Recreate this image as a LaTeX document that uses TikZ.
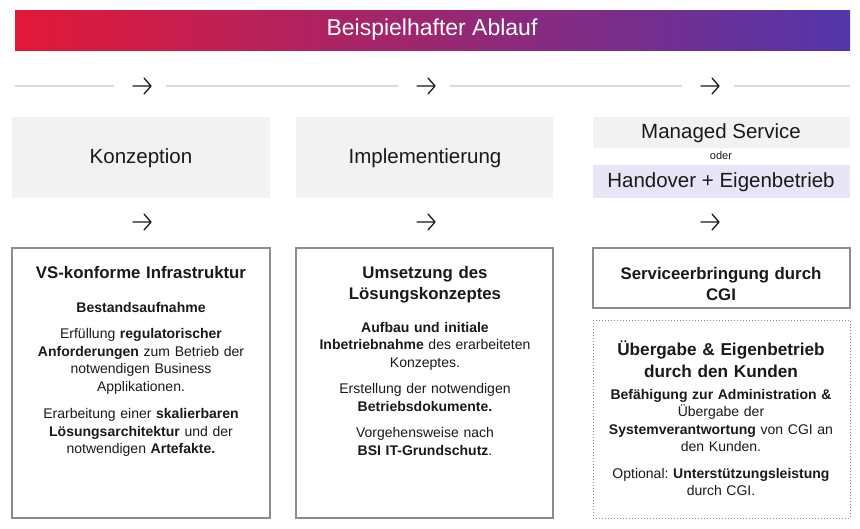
\documentclass[tikz,border=0pt]{standalone}
\usepackage{fontspec}
\setmainfont{Liberation Sans}
\definecolor{cgired}{HTML}{E31837}
\definecolor{cgipurple}{HTML}{5236AB}
\definecolor{boxgray}{HTML}{F2F2F2}
\definecolor{lilac}{HTML}{E8E5F6}
\definecolor{linegray}{HTML}{D9D9D9}
\definecolor{border}{HTML}{8C8C8C}
\definecolor{txt}{HTML}{1A1A1A}
\begin{document}
\begin{tikzpicture}[x=1pt,y=-1pt,
  phase/.style={fill=boxgray,draw=none},
  plabel/.style={font=\fontsize{20.5}{20.5}\selectfont,text=txt},
  arr/.style={minimum width=22pt,minimum height=20pt,inner sep=0pt,
    path picture={\draw[txt,line width=1.3pt,line cap=round,line join=round]
      ([xshift=2pt]path picture bounding box.west) -- ([xshift=-2pt]path picture bounding box.east)
      ([xshift=-9pt,yshift=8pt]path picture bounding box.east) -- ([xshift=-2pt]path picture bounding box.east)
      -- ([xshift=-9pt,yshift=-8pt]path picture bounding box.east);}},
  frame/.style={draw=border,line width=1.4pt,fill=white},
  dframe/.style={draw=border,line width=1pt,dotted,fill=white},
  body/.style={anchor=north,align=center,text width=250pt,text=txt,inner sep=0pt,font=\fontsize{14}{17.5}\selectfont},
  head/.style={anchor=north,align=center,text width=250pt,text=txt,inner sep=0pt,font=\fontsize{16.8}{21.5}\selectfont\bfseries},
  conn/.style={draw=linegray,line width=1.2pt}]
\useasboundingbox (0,0) rectangle (860,528);
% title bar
\shade[left color=cgired,right color=cgipurple] (15,10) rectangle (850,50);
\node[text=white,font=\fontsize{23}{23}\selectfont] (title) at (432,30) {Beispielhafter Ablauf};
% arrow row 1
\node[arr] (a1) at (142,86) {};
\node[arr] (a2) at (426,86) {};
\node[arr] (a3) at (710,86) {};
\coordinate (l0) at (15,86); \coordinate (l4) at (850,86);
\draw[conn] (l0) -- ([xshift=-28pt]a1.center);
\draw[conn] ([xshift=24pt]a1.center) -- ([xshift=-28pt]a2.center);
\draw[conn] ([xshift=24pt]a2.center) -- ([xshift=-28pt]a3.center);
\draw[conn] ([xshift=24pt]a3.center) -- (l4);
% phase boxes
\fill[phase] (12,117) rectangle (270,198);
\node[plabel] (p1) at (141,158) {Konzeption};
\fill[phase] (296,117) rectangle (553,198);
\node[plabel] (p2) at (425,158) {Implementierung};
\fill[phase] (593,117) rectangle (850,148);
\node[plabel] (p3) at (721,133) {Managed Service};
\node[font=\fontsize{11}{11}\selectfont,text=txt] (oder) at (721,156) {oder};
\fill[lilac] (593,165) rectangle (850,198);
\node[plabel] (p4) at (721,182) {Handover + Eigenbetrieb};
% arrow row 2
\node[arr] (b1) at (142,222) {};
\node[arr] (b2) at (426,222) {};
\node[arr] (b3) at (710,222) {};
% detail boxes
\draw[frame] (12,248) rectangle (270,518);
\node[head] (h1) at (141,266) {VS-konforme Infrastruktur};
\node[body] (d1) at (141,302) {\textbf{Bestandsaufnahme}\\[9pt]
Erfüllung \textbf{regulatorischer}\\ \textbf{Anforderungen} zum Betrieb der\\ notwendigen Business\\ Applikationen.\\[10pt]
Erarbeitung einer \textbf{skalierbaren}\\ \textbf{Lösungsarchitektur} und der\\ notwendigen \textbf{Artefakte.}};
\draw[frame] (296,248) rectangle (553,518);
\node[head] (h2) at (425,266) {Umsetzung des\\ Lösungskonzeptes};
\node[body] (d2) at (425,322) {\textbf{Aufbau und initiale}\\ \textbf{Inbetriebnahme} des erarbeiteten\\ Konzeptes.\\[9pt]
Erstellung der notwendigen\\ \textbf{Betriebsdokumente.}\\[9pt]
Vorgehensweise nach\\ \textbf{BSI IT-Grundschutz}.};
\draw[frame] (593,248) rectangle (850,308);
\node[head] (h3) at (721,267) {Serviceerbringung durch\\ CGI};
\draw[dframe] (593,320) rectangle (850,518);
\node[head,font=\fontsize{17.2}{22}\selectfont\bfseries] (h4) at (721,341) {Übergabe \& Eigenbetrieb\\ durch den Kunden};
\node[body] (d4) at (721,389) {\textbf{Befähigung zur Administration \&}\\ Übergabe der\\ \textbf{Systemverantwortung} von CGI an\\ den Kunden.\\[9pt]
Optional:~\textbf{Unterstützungsleistung}\\ durch CGI.};
\end{tikzpicture}
\end{document}
